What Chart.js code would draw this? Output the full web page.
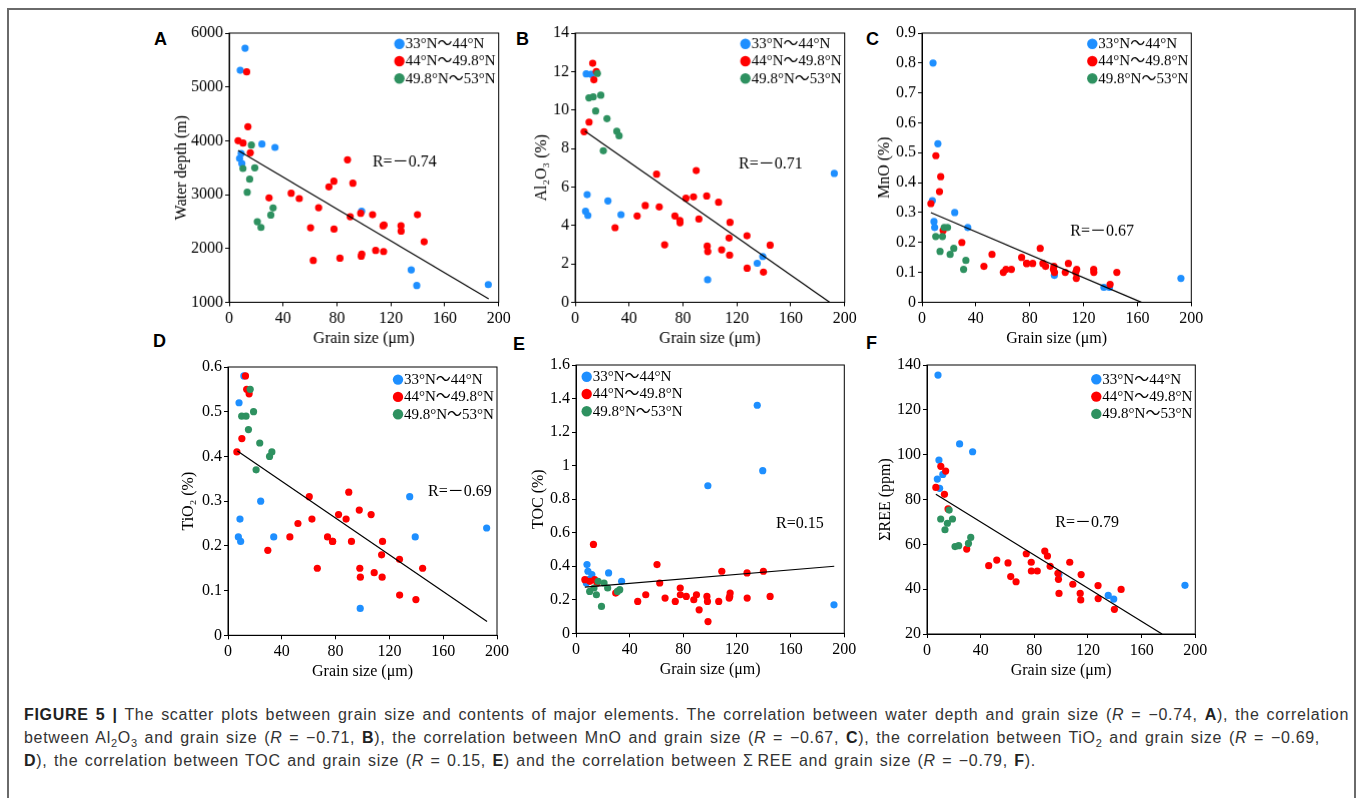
<!DOCTYPE html>
<html>
<head>
<meta charset="utf-8">
<script src="https://cdn.jsdelivr.net/npm/chart.js@4.4.1/dist/chart.umd.min.js"></script>
<style>
html, body { margin: 0; padding: 0; background: #fff; }
body { width: 1358px; height: 798px; position: relative; overflow: hidden; font-family: 'Liberation Sans', Arial, sans-serif; }
#frame { position: absolute; left: 7px; top: 8px; width: 1349px; height: 830px; border: 2px solid #6a6a6a; box-sizing: border-box; }
.panel { position: absolute; }
.letter { position: absolute; font: bold 18px 'Liberation Sans', Arial, sans-serif; line-height: 18px; color: #000; }
.cap { position: absolute; left: 24px; font-size: 16px; line-height: 21px; color: #333; letter-spacing: 0.7px; text-align: justify; text-align-last: justify; white-space: nowrap; }
.cap b { color: #222; }
.cap sub { font-size: 11px; line-height: 0; }
</style>
</head>
<body>
<div id="frame"></div>

<div class="letter" style="left:154px;top:30px">A</div>
<div class="letter" style="left:516px;top:30px">B</div>
<div class="letter" style="left:866px;top:30px">C</div>
<div class="letter" style="left:153px;top:332px">D</div>
<div class="letter" style="left:513px;top:335px">E</div>
<div class="letter" style="left:866px;top:334px">F</div>

<div class="cap" style="top:704px;width:1325px"><b>FIGURE 5 |</b> The scatter plots between grain size and contents of major elements. The correlation between water depth and grain size (<i>R</i> = −0.74, <b>A</b>), the correlation</div>
<div class="cap" style="top:727px;width:1296px">between Al<sub>2</sub>O<sub>3</sub> and grain size (<i>R</i> = −0.71, <b>B</b>), the correlation between MnO and grain size (<i>R</i> = −0.67, <b>C</b>), the correlation between TiO<sub>2</sub> and grain size (<i>R</i> = −0.69,</div>
<div class="cap" style="top:750px;width:1012px"><b>D</b>), the correlation between TOC and grain size (<i>R</i> = 0.15, <b>E</b>) and the correlation between Σ&#8201;REE and grain size (<i>R</i> = −0.79, <b>F</b>).</div>

<script>
const xTicks = [0, 40, 80, 120, 160, 200];
const groupLabels = ['33°N～44°N', '44°N～49.8°N', '49.8°N～53°N'];
const groupColors = ['#1e8fff', '#ff0000', '#2e9160'];

// grain size (µm) of the samples in each latitude band
const grainBlue = [7.7, 8.2, 8.9, 9.4, 11.8, 24.3, 34.0, 98.3, 135.1, 139.2, 192.3];
const grainRed = [6.6, 10.3, 13.0, 13.9, 15.7, 29.6, 46.0, 52.0, 60.4, 62.4, 66.4, 74.0, 77.7, 77.8, 82.2,
  87.8, 89.8, 91.8, 97.6, 98.0, 98.4, 106.4, 108.7, 114.2, 114.9, 114.6, 127.5, 127.6, 139.7, 144.7];
const grainGreen = [10.2, 13.4, 15.2, 16.5, 19.0, 20.9, 23.6, 30.9, 32.6];

// water depth (m)
const depthBlue = [3670, 5310, 3764, 3578, 5720, 3938, 3876, 2690, 1603, 1311, 1329];
const depthRed = [4000, 3957, 5280, 4261, 3777, 2938, 3025, 2926, 2385, 1777, 2758, 3143, 3249, 2360, 1820,
  3646, 2590, 3211, 2652, 1857, 1895, 2627, 1963, 2420, 2435, 1944, 2422, 2323, 2627, 2124];
const depthGreen = [3485, 3044, 3286, 3919, 3497, 2497, 2391, 2621, 2752];

// Al2O3 (%)
const al2o3Blue = [4.73, 11.88, 5.60, 4.52, 11.86, 5.27, 4.56, 1.17, 2.03, 2.38, 6.70];
const al2o3Red = [8.87, 9.37, 12.43, 11.57, 12.00, 3.88, 4.49, 5.03, 6.66, 4.96, 2.99, 4.49, 4.26, 4.14, 5.41,
  5.48, 6.85, 4.33, 5.53, 2.92, 2.64, 5.20, 2.73, 3.34, 4.16, 2.45, 3.46, 1.77, 1.57, 2.97];
const al2o3Green = [10.63, 10.68, 9.95, 11.90, 10.77, 7.88, 9.55, 8.89, 8.66];

// MnO (%)
const mnoBlue = [0.34, 0.80, 0.27, 0.25, 0.53, 0.30, 0.25, 0.09, 0.05, 0.05, 0.08];
const mnoRed = [0.33, 0.49, 0.37, 0.42, 0.24, 0.20, 0.12, 0.16, 0.10, 0.11, 0.11, 0.15, 0.13, 0.13, 0.13,
  0.18, 0.13, 0.12, 0.11, 0.12, 0.10, 0.10, 0.13, 0.10, 0.11, 0.08, 0.11, 0.10, 0.06, 0.10];
const mnoGreen = [0.22, 0.17, 0.22, 0.25, 0.25, 0.16, 0.18, 0.11, 0.14];

// TiO2 (%)
const tio2Blue = [0.22, 0.52, 0.26, 0.21, 0.58, 0.30, 0.22, 0.06, 0.31, 0.22, 0.24];
const tio2Red = [0.41, 0.44, 0.58, 0.55, 0.54, 0.19, 0.22, 0.25, 0.31, 0.26, 0.15, 0.22, 0.21, 0.21, 0.27,
  0.26, 0.32, 0.21, 0.28, 0.15, 0.13, 0.27, 0.14, 0.18, 0.21, 0.13, 0.17, 0.09, 0.08, 0.15];
const tio2Green = [0.49, 0.49, 0.46, 0.55, 0.50, 0.37, 0.43, 0.40, 0.41];

// TOC (%)
const tocBlue = [0.30, 0.41, 0.37, 0.32, 0.35, 0.36, 0.31, 0.88, 1.36, 0.97, 0.17];
const tocRed = [0.32, 0.31, 0.53, 0.32, 0.30, 0.24, 0.19, 0.23, 0.41, 0.30, 0.21, 0.19, 0.27, 0.23, 0.22,
  0.20, 0.23, 0.14, 0.22, 0.19, 0.07, 0.19, 0.37, 0.21, 0.24, 0.22, 0.36, 0.21, 0.37, 0.22];
const tocGreen = [0.25, 0.27, 0.23, 0.31, 0.16, 0.30, 0.27, 0.25, 0.26];

// ΣREE (ppm)
const reeBlue = [89.1, 135.5, 97.6, 85.0, 91.2, 104.8, 101.3, 46.5, 37.2, 35.6, 41.7];
const reeRed = [85.4, 94.8, 82.3, 92.7, 75.8, 57.9, 50.5, 53.0, 51.7, 45.6, 43.3, 55.8, 52.0, 48.1, 48.1,
  57.0, 54.8, 50.2, 47.1, 44.4, 38.1, 52.0, 42.2, 38.1, 46.5, 35.2, 41.6, 35.8, 31.0, 39.9];
const reeGreen = [71.3, 66.5, 69.4, 75.3, 71.3, 59.0, 59.4, 60.4, 63.1];

// fitted lines as [x0, y0, x1, y1]
const depthFit = [6.6, 3820, 192.6, 1062];
const al2o3Fit = [7.2, 8.9, 189.0, 0];
const mnoFit = [6.6, 0.30, 162.9, 0];
const tio2Fit = [7.0, 0.412, 192.6, 0.031];
const tocFit = [6.6, 0.275, 192.5, 0.40];
const reeFit = [6.6, 82.3, 175.2, 20];

const depthTicks = [1000, 2000, 3000, 4000, 5000, 6000];
const al2o3Ticks = [0, 2, 4, 6, 8, 10, 12, 14];
const mnoTicks = [0, 0.1, 0.2, 0.3, 0.4, 0.5, 0.6, 0.7, 0.8, 0.9];
const tio2Ticks = [0, 0.1, 0.2, 0.3, 0.4, 0.5, 0.6];
const tocTicks = [0, 0.2, 0.4, 0.6, 0.8, 1.0, 1.2, 1.4, 1.6];
const reeTicks = [20, 40, 60, 80, 100, 120, 140];

const rLabels = ['R=－0.74', 'R=－0.71', 'R=－0.67', 'R=－0.69', 'R=0.15', 'R=－0.79'];

const grains = [grainBlue, grainRed, grainGreen];

// layout of each panel: plot area [left, top, right, bottom] in page px
const panels = [
  { yTitle: 'Water depth (m)', yTicks: depthTicks, series: [depthBlue, depthRed, depthGreen], fit: depthFit,
    area: [229, 33.3, 497.7, 301.7], titleGap: 47.3, legend: { side: 'right', top: 10.7 }, rAt: [106.4, 3608] },
  { yTitle: 'Al₂O₃ (%)', yTicks: al2o3Ticks, series: [al2o3Blue, al2o3Red, al2o3Green], fit: al2o3Fit,
    area: [575.3, 33.3, 844, 301.7], titleGap: 33, legend: { side: 'right', top: 10.7 }, rAt: [121.3, 7.18] },
  { yTitle: 'MnO (%)', yTicks: mnoTicks, series: [mnoBlue, mnoRed, mnoGreen], fit: mnoFit,
    area: [921.7, 33.3, 1191, 301.7], titleGap: 37.7, legend: { side: 'right', top: 10.7 }, rAt: [110.1, 0.237] },
  { yTitle: 'TiO₂ (%)', yTicks: tio2Ticks, series: [tio2Blue, tio2Red, tio2Green], fit: tio2Fit,
    area: [227.7, 366.7, 496.7, 635], titleGap: 39.4, legend: { side: 'right', top: 12.6 }, rAt: [148.7, 0.322] },
  { yTitle: 'TOC (%)', yTicks: tocTicks, series: [tocBlue, tocRed, tocGreen], fit: tocFit,
    area: [576, 365, 844.3, 633.3], titleGap: 37.7, legend: { side: 'left', top: 11.7 }, rAt: [149.1, 0.652] },
  { yTitle: 'ΣREE (ppm)', yTicks: reeTicks, series: [reeBlue, reeRed, reeGreen], fit: reeFit,
    area: [926.7, 365, 1195, 634], titleGap: 41.7, legend: { side: 'right', top: 14.3 }, rAt: [95.6, 69.7] }
];

const SERIF = "'Liberation Serif', 'Times New Roman', 'Noto Sans CJK SC', serif";
Chart.defaults.font.family = SERIF;
Chart.defaults.font.size = 16;
Chart.defaults.color = '#000';

const Y_W = 60, X_H = 46, PAD_T = 15, PAD_R = 20;
const fmt = v => String(Math.round(v * 100) / 100);

function makeDecor(p, rText) {
  return {
    id: 'decor',
    afterDraw(chart) {
      const { ctx, chartArea: a, scales } = chart;
      ctx.save();
      ctx.strokeStyle = '#000';
      ctx.lineWidth = 1;
      ctx.strokeRect(a.left, a.top, a.right - a.left, a.bottom - a.top);

      ctx.font = '15px ' + SERIF;
      ctx.textAlign = 'left';
      ctx.textBaseline = 'middle';
      const cx = p.legend.side === 'left' ? a.left + 10.7 : a.right - 99;
      groupLabels.forEach((lab, i) => {
        const cy = a.top + p.legend.top + i * 17.3;
        ctx.fillStyle = groupColors[i];
        ctx.beginPath();
        ctx.arc(cx, cy, 5.2, 0, Math.PI * 2);
        ctx.fill();
        ctx.fillStyle = '#000';
        ctx.fillText(lab, cx + 6, cy + 0.5);
      });

      ctx.font = '16px ' + SERIF;
      ctx.fillText(rText, scales.x.getPixelForValue(p.rAt[0]), scales.y.getPixelForValue(p.rAt[1]));
      ctx.restore();
    }
  };
}

panels.forEach((p, k) => {
  const [L, T, R, B] = p.area;
  const wrap = document.createElement('div');
  wrap.className = 'panel';
  wrap.style.left = (L - Y_W) + 'px';
  wrap.style.top = (T - PAD_T) + 'px';
  wrap.style.width = (R - L + Y_W + PAD_R) + 'px';
  wrap.style.height = (B - T + PAD_T + X_H) + 'px';
  const cv = document.createElement('canvas');
  wrap.appendChild(cv);
  document.body.appendChild(wrap);

  const datasets = p.series.map((ys, g) => ({
    label: groupLabels[g],
    data: grains[g].map((x, i) => ({ x: x, y: ys[i] })),
    backgroundColor: groupColors[g],
    borderWidth: 0,
    pointRadius: 3.6,
    order: 3 - g
  }));
  datasets.push({
    label: 'fit',
    data: [{ x: p.fit[0], y: p.fit[1] }, { x: p.fit[2], y: p.fit[3] }],
    showLine: true,
    borderColor: '#000',
    borderWidth: 1.2,
    pointRadius: 0,
    order: 0
  });

  const yT = p.yTicks;
  new Chart(cv, {
    type: 'scatter',
    data: { datasets: datasets },
    options: {
      responsive: true,
      maintainAspectRatio: false,
      animation: false,
      events: [],
      layout: { padding: { top: PAD_T, right: PAD_R, left: 0, bottom: 0 } },
      plugins: { legend: { display: false }, tooltip: { enabled: false } },
      scales: {
        x: {
          type: 'linear',
          min: xTicks[0],
          max: xTicks[xTicks.length - 1],
          afterBuildTicks: s => { s.ticks = xTicks.map(v => ({ value: v })); },
          afterFit: s => { s.height = X_H; },
          grid: { drawOnChartArea: false, drawTicks: true, tickLength: 4, color: '#000' },
          border: { display: true, color: '#000', width: 1 },
          ticks: { padding: 3, autoSkip: false, maxRotation: 0, callback: fmt },
          title: { display: true, text: 'Grain size (μm)', padding: { top: 0, bottom: 0 } }
        },
        y: {
          type: 'linear',
          min: yT[0],
          max: yT[yT.length - 1],
          afterBuildTicks: s => { s.ticks = yT.map(v => ({ value: v })); },
          afterFit: s => { s.width = Y_W; },
          grid: { drawOnChartArea: false, drawTicks: true, tickLength: 4, color: '#000' },
          border: { display: true, color: '#000', width: 1 },
          ticks: { padding: 2, autoSkip: false, callback: fmt },
          title: { display: true, text: p.yTitle, padding: { top: 50.4 - p.titleGap, bottom: 0 } }
        }
      }
    },
    plugins: [makeDecor(p, rLabels[k])]
  });
});
</script>
</body>
</html>
